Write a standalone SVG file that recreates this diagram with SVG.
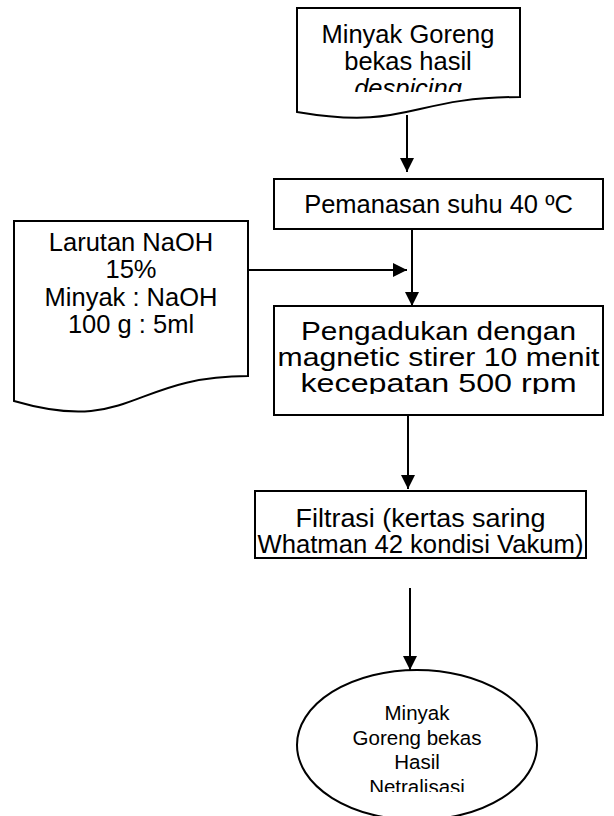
<svg xmlns="http://www.w3.org/2000/svg" width="614" height="816" viewBox="0 0 614 816">
<defs>
<style>
.shape{fill:#fff;stroke:#000;stroke-width:2}
.t{font-family:"Liberation Sans",Arial,sans-serif;font-size:25.5px;fill:#000;text-anchor:middle}
.s{font-size:20.5px}
.conn line{stroke:#000;stroke-width:2}
</style>
<marker id="ah" viewBox="0 0 14 14" refX="14" refY="7" markerWidth="14" markerHeight="14" markerUnits="userSpaceOnUse" orient="auto">
<path d="M0,0 L14,7 L0,14 Z" fill="#000"/>
</marker>
<clipPath id="c1"><rect x="297" y="8" width="223" height="84"/></clipPath>
<clipPath id="c2"><rect x="274" y="306" width="329" height="88"/></clipPath>
<clipPath id="c3"><rect x="297" y="670" width="240" height="122"/></clipPath>
</defs>
<rect width="614" height="816" fill="#fff"/>
<g id="input-oil">
<path class="shape" d="M297,8 H520 V97 C408.5,97 408.5,131 297,112 Z"/>
<g clip-path="url(#c1)">
<text class="t" x="408" y="43" font-size="24">Minyak Goreng</text>
<text class="t" x="408" y="70" font-size="24">bekas hasil</text>
<text class="t" x="408" y="97" font-size="24" font-style="italic">despicing</text>
</g>
</g>
<g id="heating">
<rect class="shape" x="274" y="179" width="329" height="50"/>
<text class="t" x="438.5" y="213" font-size="26.5">Pemanasan suhu 40 ºC</text>
</g>
<g id="naoh">
<path class="shape" d="M14,221 H248 V376 C131,376 131,435 14,401 Z"/>
<text class="t" x="131" y="251">Larutan NaOH</text>
<text class="t" x="131" y="278">15%</text>
<text class="t" x="131" y="306">Minyak : NaOH</text>
<text class="t" x="131" y="333">100 g : 5ml</text>
</g>
<g id="stirring">
<rect class="shape" x="274" y="306" width="329" height="109"/>
<g clip-path="url(#c2)">
<text class="t" x="438.5" y="340" font-size="27" textLength="275" lengthAdjust="spacingAndGlyphs">Pengadukan dengan</text>
<text class="t" x="438.5" y="366" font-size="27" textLength="322" lengthAdjust="spacingAndGlyphs">magnetic stirer 10 menit</text>
<text class="t" x="438.5" y="392" font-size="27" textLength="276" lengthAdjust="spacingAndGlyphs">kecepatan 500 rpm</text>
</g>
</g>
<g id="filtration">
<rect class="shape" x="255" y="491" width="331" height="67"/>
<text class="t" x="420.5" y="527" textLength="250" lengthAdjust="spacingAndGlyphs">Filtrasi (kertas saring</text>
<text class="t" x="420.5" y="553" textLength="326" lengthAdjust="spacingAndGlyphs">Whatman 42 kondisi Vakum)</text>
</g>
<g id="output">
<ellipse class="shape" cx="417" cy="745" rx="120" ry="75"/>
<g clip-path="url(#c3)">
<text class="t s" x="417" y="720">Minyak</text>
<text class="t s" x="417" y="744.5">Goreng bekas</text>
<text class="t s" x="417" y="769">Hasil</text>
<text class="t s" x="417" y="793.5">Netralisasi</text>
</g>
</g>
<g id="connectors" class="conn">
<line x1="407" y1="115" x2="407" y2="172" marker-end="url(#ah)"/>
<line x1="412" y1="229" x2="412" y2="306" marker-end="url(#ah)"/>
<line x1="248" y1="270" x2="407" y2="270" marker-end="url(#ah)"/>
<line x1="408" y1="415" x2="408" y2="489" marker-end="url(#ah)"/>
<line x1="410" y1="588" x2="410" y2="670" marker-end="url(#ah)"/>
</g>
</svg>
